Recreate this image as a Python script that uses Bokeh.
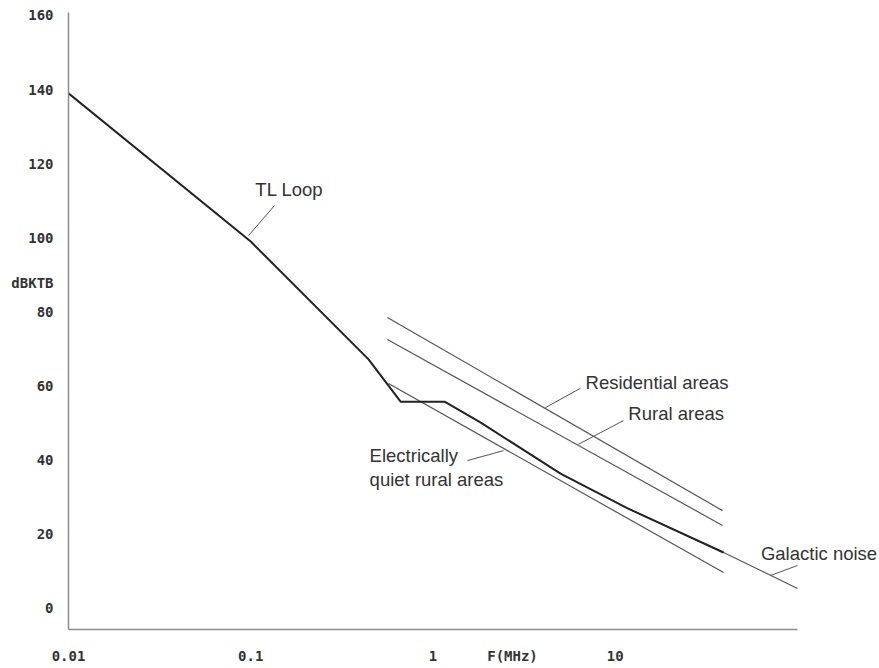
from bokeh.plotting import figure
from bokeh.models import Range1d, FixedTicker, Label
from bokeh.embed import file_html
from bokeh.resources import INLINE

# ---- data (MHz, dBKTB) ----
tl_loop_f = [0.01, 0.1, 0.443, 0.664, 1.157, 1.82, 5.01, 11.7, 39.3]
tl_loop_db = [139.0, 99.0, 67.2, 55.8, 55.8, 50.2, 36.4, 27.0, 15.1]

galactic_f = [11.7, 39.3, 100.0]
galactic_db = [27.0, 15.1, 5.4]

residential_f = [0.562, 38.8]
residential_db = [78.5, 26.4]

rural_f = [0.562, 38.8]
rural_db = [72.6, 22.4]

quiet_f = [0.570, 39.3]
quiet_db = [60.7, 9.7]

x_ticks = [0.01, 0.1, 1, 2.73, 10]
x_tick_labels = ["0.01", "0.1", "1", "F(MHz)", "10"]
y_ticks = [0, 20, 40, 60, 80, 87.7, 100, 120, 140, 160]
y_tick_labels = ["0", "20", "40", "60", "80", "dBKTB", "100", "120", "140", "160"]

# annotation texts: (text, x, y)
ann_text = ["TL Loop", "Residential areas", "Rural areas", "Electrically",
            "quiet rural areas", "Galactic noise"]
ann_x = [0.106, 6.87, 11.8, 0.449, 0.449, 63.0]
ann_y = [113.1, 61.0, 52.6, 41.3, 34.8, 14.8]

# leader lines
lead_x0 = [0.1349, 6.44, 11.1, 1.545, 100.0]
lead_y0 = [108.7, 59.4, 50.7, 39.9, 11.6]
lead_x1 = [0.0972, 4.14, 6.28, 2.44, 71.1]
lead_y1 = [100.6, 54.2, 44.3, 42.6, 8.9]

p = figure(width=879, height=668, x_axis_type="log",
           x_range=Range1d(0.01, 281.8), y_range=Range1d(-5.67, 160.8),
           output_backend="svg", toolbar_location=None,
           min_border_left=68, min_border_right=0,
           min_border_top=12, min_border_bottom=39)
p.grid.visible = False
p.outline_line_color = None
p.background_fill_color = "white"
p.border_fill_color = "white"

for ax in (p.xaxis[0], p.yaxis[0]):
    ax.axis_line_color = "#8c8c8c"
    ax.axis_line_width = 1.5
    ax.major_tick_line_color = None
    ax.minor_tick_line_color = None
    ax.major_tick_out = 0
    ax.major_tick_in = 0
    ax.minor_tick_out = 0
    ax.major_label_text_font = "DejaVu Sans Mono"
    ax.major_label_text_font_style = "bold"
    ax.major_label_text_font_size = "14px"
    ax.major_label_text_color = "#333333"

p.xaxis[0].bounds = (0.01, 100)
p.xaxis[0].ticker = FixedTicker(ticks=x_ticks)
p.xaxis[0].major_label_overrides = {t: l for t, l in zip(x_ticks, x_tick_labels)}
p.xaxis[0].major_label_standoff = 18
p.yaxis[0].ticker = FixedTicker(ticks=y_ticks)
p.yaxis[0].major_label_overrides = {t: l for t, l in zip(y_ticks, y_tick_labels)}
p.yaxis[0].major_label_standoff = 15

thin = "#555555"
p.line(galactic_f, galactic_db, line_color=thin, line_width=1.2)
p.line(residential_f, residential_db, line_color=thin, line_width=1.2)
p.line(rural_f, rural_db, line_color=thin, line_width=1.2)
p.line(quiet_f, quiet_db, line_color=thin, line_width=1.2)
p.line(tl_loop_f, tl_loop_db, line_color="#222222", line_width=2)

p.segment(lead_x0, lead_y0, lead_x1, lead_y1, line_color=thin, line_width=1)

for t, x, y in zip(ann_text, ann_x, ann_y):
    p.add_layout(Label(x=x, y=y, text=t, text_font="Liberation Sans",
                       text_font_size="18.5px", text_color="#333333",
                       text_baseline="middle", text_align="left"))

open("out.html", "w").write(file_html(p, INLINE))
